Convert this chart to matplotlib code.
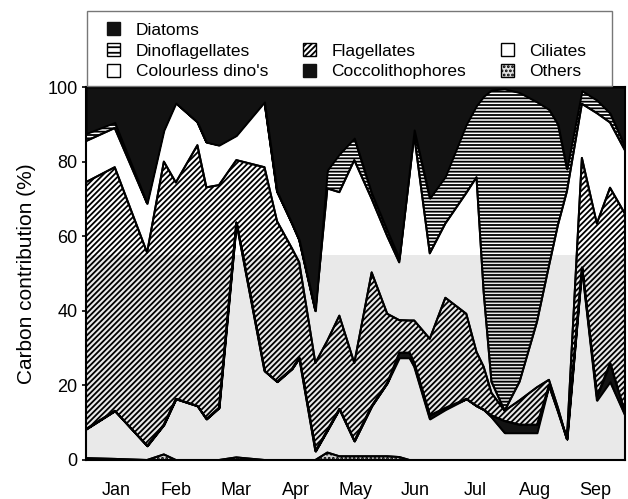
import numpy as np
import matplotlib
matplotlib.use("Agg")
import matplotlib.pyplot as plt
from matplotlib.patches import Patch, Rectangle

plt.rcParams['font.family'] = ['Liberation Sans', 'DejaVu Sans']
plt.rcParams['hatch.linewidth'] = 1.3

# sampling positions in months since 1 Jan
x_months = [0.00, 0.48, 1.02, 1.30, 1.50, 1.86, 2.01, 2.22, 2.51, 2.98,
            3.19, 3.44, 3.56, 3.83, 4.03, 4.23, 4.48, 4.77, 5.03, 5.23,
            5.40, 5.48, 5.74, 6.00, 6.35, 6.52, 6.64, 6.77, 6.99, 7.24,
            7.53, 7.73, 7.88, 8.03, 8.28, 8.53, 8.75, 9.00]

others = [0.5, 0.3, 0, 1.5, 0, 0, 0, 0, 0.7, 0,
          0, 0, 0, 0, 2.0, 1.0, 1.0, 1.0, 1.0, 0.8,
          0, 0, 0, 0, 0, 0, 0, 0, 0, 0,
          0, 0, 0, 0, 0, 0, 0, 0]
ciliates = [7.8, 12.9, 3.8, 8.0, 16.4, 14.5, 11.0, 14.0, 63.0, 23.9,
            21.0, 24.5, 27.4, 2.4, 6.0, 12.7, 4.1, 13.5, 19.7, 26.6,
            27.4, 25.0, 11.0, 13.5, 16.4, 14.5, 13.5, 11.5, 7.3, 7.3,
            7.3, 20.0, 13.0, 5.6, 51.6, 16.0, 21.0, 12.0]
coccolithophores = [0, 0, 0, 0, 0, 0, 0, 0, 0, 0,
                    0, 0, 0, 0, 0, 0, 0, 0, 0, 1.4,
                    1.4, 1.0, 1.0, 0.5, 0, 0, 0, 0.5, 3.2, 2.2,
                    2.2, 0, 0, 0, 0, 1.0, 5.0, 0.5]
flagellates = [66.2, 65.3, 51.8, 70.5, 58.0, 69.9, 62.1, 59.7, 16.7, 54.6,
               43.0, 32.2, 25.6, 23.6, 24.0, 25.0, 20.9, 35.8, 18.5, 8.7,
               8.6, 11.4, 20.5, 29.5, 22.8, 14.5, 11.5, 6.0, 2.7, 6.5,
               10.0, 1.5, 1.0, 0, 29.4, 46.4, 47.0, 53.5]
colourless_dinos = [11.0, 10.5, 13.2, 8.4, 21.3, 6.2, 12.1, 10.7, 6.6, 17.5,
                    8.0, 6.7, 6.0, 14.0, 40.8, 33.1, 54.4, 19.7, 20.8, 15.5,
                    38.6, 49.6, 22.9, 19.9, 32.4, 46.8, 20.0, 3.0, 0, 5.0,
                    17.5, 30.5, 49.0, 66.4, 14.5, 29.6, 17.5, 17.0]
dinoflagellates = [2.0, 1.5, 0, 0, 0, 0, 0, 0, 0, 0,
                   0, 0, 0, 0, 4.9, 10.2, 5.9, 1.5, 1.5, 1.0,
                   1.5, 1.5, 14.8, 12.6, 18.4, 19.2, 52.5, 78.2, 86.3, 77.5,
                   59.0, 42.0, 27.0, 6.0, 3.5, 3.5, 2.5, 1.0]
diatoms = [12.5, 9.5, 31.2, 11.6, 4.3, 9.4, 14.8, 15.6, 13.0, 4.0,
           28.0, 36.6, 41.0, 60.0, 22.3, 18.0, 13.7, 28.5, 38.5, 46.0,
           22.5, 11.5, 29.8, 24.0, 10.0, 5.0, 2.5, 0.8, 0.5, 1.5,
           4.0, 6.0, 10.0, 22.0, 1.0, 3.5, 7.0, 16.0]

month_labels = ['Jan', 'Feb', 'Mar', 'Apr', 'May', 'Jun', 'Jul', 'Aug', 'Sep']
y_ticks = [0, 20, 40, 60, 80, 100]

layers = [
    ('Others', others, dict(facecolor='#cfcfcf', hatch='....')),
    ('Ciliates', ciliates, dict(facecolor='none')),
    ('Coccolithophores', coccolithophores, dict(facecolor='#121212')),
    ('Flagellates', flagellates, dict(facecolor='none', hatch='//////')),
    ("Colourless dino's", colourless_dinos, dict(facecolor='none')),
    ('Dinoflagellates', dinoflagellates, dict(facecolor='none', hatch='-----')),
    ('Diatoms', diatoms, dict(facecolor='#121212')),
]

W, H = 628, 499
fig = plt.figure(figsize=(W / 100, H / 100), dpi=100)
ax = fig.add_axes([86 / W, 1 - 460 / H, 539 / W, 373 / H])

x = np.array(x_months)
ax.axhspan(0, 55, facecolor='#e9e9e9', lw=0, zorder=0)
lower = np.zeros(len(x))
for name, vals, st in layers:
    upper = lower + np.array(vals, dtype=float)
    ax.fill_between(x, lower, upper, edgecolor='black', linewidth=1.4,
                    zorder=2, **st)
    lower = upper

ax.set_xlim(0, 9)
ax.set_ylim(0, 100)
ax.set_xticks(np.arange(len(month_labels)) + 0.5)
ax.set_xticklabels(month_labels)
ax.set_yticks(y_ticks)
ax.tick_params(axis='x', length=0, pad=16, labelsize=13)
ax.tick_params(axis='y', length=3, width=1.2, pad=3, labelsize=13)
for sp in ax.spines.values():
    sp.set_linewidth(1.5)
    sp.set_zorder(5)
ax.set_ylabel('Carbon contribution (%)', fontsize=15, labelpad=8)

# legend frame
fig.patches.append(Rectangle((87 / W, 1 - 86 / H), 525 / W, 75 / H,
                             transform=fig.transFigure, facecolor='white',
                             edgecolor='#777777', linewidth=1.0, zorder=0))

blank = Patch(facecolor='none', edgecolor='none', label='')
handles = [
    Patch(facecolor='#121212', edgecolor='#121212', label='Diatoms'),
    Patch(facecolor='white', edgecolor='black', hatch='---', label='Dinoflagellates'),
    Patch(facecolor='white', edgecolor='black', label="Colourless dino's"),
    blank,
    Patch(facecolor='white', edgecolor='black', hatch='//////', label='Flagellates'),
    Patch(facecolor='#121212', edgecolor='#121212', label='Coccolithophores'),
    blank,
    Patch(facecolor='white', edgecolor='black', label='Ciliates'),
    Patch(facecolor='#e0e0e0', edgecolor='black', hatch='....', label='Others'),
]
leg = fig.legend(handles=handles, ncol=3, loc='upper left',
                 bbox_to_anchor=(107 / W, 1 - 22 / H),
                 fontsize=12.5, frameon=False,
                 handlelength=0.75, handleheight=0.8,
                 handletextpad=0.9, labelspacing=0.3, borderpad=0,
                 columnspacing=2.0, borderaxespad=0)

fig.savefig('out.png', dpi=100)
